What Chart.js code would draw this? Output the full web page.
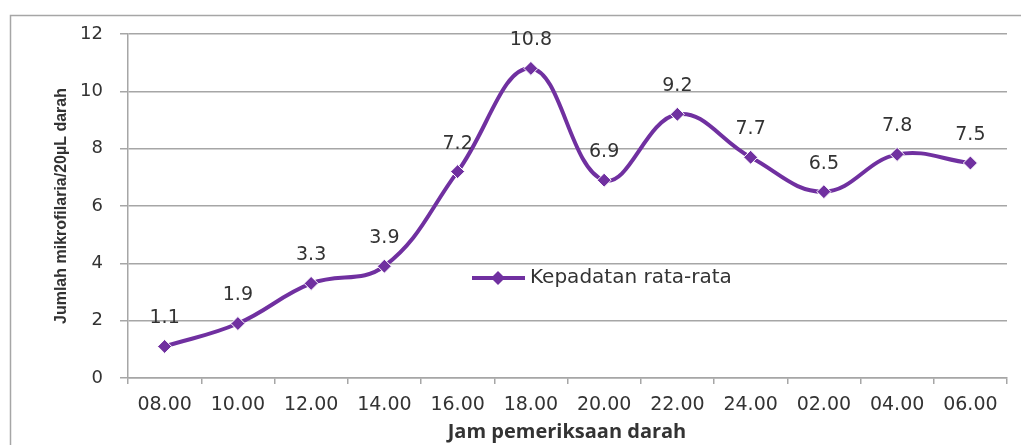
<!DOCTYPE html>
<html>
<head>
<meta charset="utf-8">
<script src="https://cdn.jsdelivr.net/npm/chart.js@4.4.1/dist/chart.umd.min.js"></script>
<style>
  html, body { margin: 0; padding: 0; background: #fff; }
  #wrap { width: 1021px; height: 445px; position: relative; }
</style>
</head>
<body>
<div id="wrap"><canvas id="chart"></canvas></div>
<script>
// data
const categories = ['08.00', '10.00', '12.00', '14.00', '16.00', '18.00', '20.00', '22.00', '24.00', '02.00', '04.00', '06.00'];
const density = [1.1, 1.9, 3.3, 3.9, 7.2, 10.8, 6.9, 9.2, 7.7, 6.5, 7.8, 7.5];
const seriesName = 'Kepadatan rata-rata';
const yMin = 0, yMax = 12, yStep = 2;
const xTitle = 'Jam pemeriksaan darah';
const yTitle = 'Jumlah mikrofilaria/20µL darah';

const purple = '#7030A0';
const gridGray = '#A6A6A6';
const textColor = '#333333';
const tickFont = '"DejaVu Sans", sans-serif';

// titles, value labels, legend and the outer frame
const extras = {
    id: 'extras',
    afterDatasetsDraw(chart) {
        const ctx = chart.ctx;
        const meta = chart.getDatasetMeta(0);
        ctx.save();
        ctx.fillStyle = textColor;
        ctx.font = '19px ' + tickFont;
        ctx.textAlign = 'center';
        ctx.textBaseline = 'middle';
        meta.data.forEach((pt, i) => {
            ctx.fillText(density[i].toFixed(1), pt.x, pt.y - 28);
        });
        ctx.restore();
    },
    afterDraw(chart) {
        const ctx = chart.ctx;
        const area = chart.chartArea;
        ctx.save();

        // frame of the chart object
        ctx.strokeStyle = gridGray;
        ctx.lineWidth = 1.5;
        ctx.beginPath();
        ctx.moveTo(10.5, 445);
        ctx.lineTo(10.5, 15.5);
        ctx.lineTo(1021, 15.5);
        ctx.stroke();

        // x title
        ctx.fillStyle = textColor;
        ctx.font = 'bold 20px "Open Sans", sans-serif';
        ctx.textAlign = 'center';
        ctx.textBaseline = 'middle';
        ctx.fillText(xTitle, 567, 432);

        // y title
        ctx.save();
        ctx.translate(62, (area.top + area.bottom) / 2);
        ctx.rotate(-Math.PI / 2);
        ctx.font = 'bold 16px "Liberation Sans Narrow", "Liberation Sans", sans-serif';
        ctx.fillText(yTitle, 0, 0);
        ctx.restore();

        // legend
        const ly = 278;
        ctx.strokeStyle = purple;
        ctx.lineWidth = 4;
        ctx.beginPath();
        ctx.moveTo(472, ly);
        ctx.lineTo(525, ly);
        ctx.stroke();
        ctx.fillStyle = purple;
        ctx.beginPath();
        ctx.moveTo(498, ly - 7);
        ctx.lineTo(505, ly);
        ctx.lineTo(498, ly + 7);
        ctx.lineTo(491, ly);
        ctx.closePath();
        ctx.fill();
        ctx.fillStyle = textColor;
        ctx.font = '20px ' + tickFont;
        ctx.textAlign = 'left';
        ctx.fillText(seriesName, 530, ly);

        ctx.restore();
    }
};

new Chart(document.getElementById('chart'), {
    type: 'line',
    data: {
        labels: categories,
        datasets: [{
            label: seriesName,
            data: density,
            borderColor: purple,
            borderWidth: 4,
            tension: 0.4,
            pointStyle: 'rectRot',
            pointRadius: 7,
            pointBackgroundColor: purple,
            pointBorderColor: '#ffffff',
            pointBorderWidth: 1
        }]
    },
    options: {
        responsive: true,
        maintainAspectRatio: false,
        animation: false,
        layout: { padding: { top: 34, right: 14, left: 0, bottom: 0 } },
        plugins: {
            legend: { display: false },
            tooltip: { enabled: false }
        },
        scales: {
            x: {
                offset: true,
                grid: { offset: true, drawOnChartArea: false, color: gridGray, tickLength: 6, lineWidth: 1.5 },
                border: { color: gridGray, width: 1.5 },
                ticks: { color: textColor, font: { family: tickFont, size: 19 }, padding: 10, maxRotation: 0, autoSkip: false },
                afterFit: s => { s.height = 67; }
            },
            y: {
                min: yMin,
                max: yMax,
                grid: { color: gridGray, tickLength: 8, lineWidth: 1.5 },
                border: { color: gridGray, width: 1.5 },
                ticks: { stepSize: yStep, color: textColor, font: { family: tickFont, size: 18 }, padding: 17 },
                afterFit: s => { s.width = 128; }
            }
        }
    },
    plugins: [extras]
});
</script>
</body>
</html>
